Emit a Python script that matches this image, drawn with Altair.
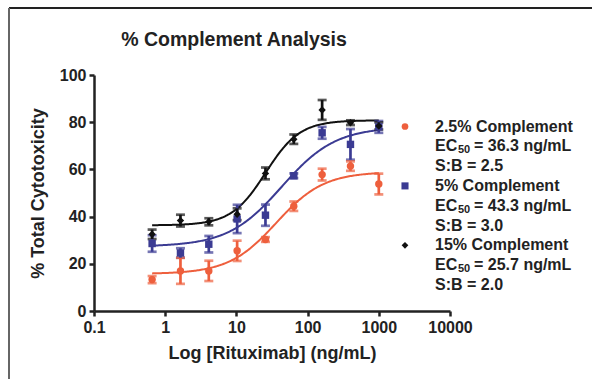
import altair as alt
import numpy as np
import pandas as pd

# ---- data ----
conc = [0.655, 1.638, 4.096, 10.24, 25.6, 64.0, 160.0, 400.0, 1000.0]

red_mean = [13.3, 17.0, 17.0, 25.5, 30.3, 44.4, 57.8, 61.4, 53.8]
red_err = [1.5, 5.5, 4.3, 4.3, 1.0, 2.0, 2.5, 2.0, 4.4]

blue_mean = [28.6, 24.6, 28.3, 39.0, 40.6, 57.3, 75.5, 70.6, 78.0]
blue_err = [3.5, 2.0, 3.5, 6.0, 4.5, 1.0, 2.5, 6.5, 2.5]

black_mean = [32.5, 38.3, 37.8, 41.0, 58.3, 72.8, 85.2, 79.8, 78.4]
black_err = [2.0, 2.5, 1.5, 2.5, 2.5, 2.0, 4.2, 1.0, 1.5]

series = ["2.5% Complement", "5% Complement", "15% Complement"]
colors = ["#EE5F3D", "#3B3B93", "#111111"]
shapes = ["circle", "square", "diamond"]

# 4-parameter logistic fit parameters (bottom, top, EC50, Hill slope)
fit_bottom = [15.7, 27.3, 36.3]
fit_top = [59.0, 78.0, 80.8]
fit_ec50 = [36.3, 43.3, 25.7]
fit_hill = [1.3, 1.15, 1.8]

legend_ec50 = ["36.3", "43.3", "25.7"]
legend_sb = ["2.5", "3.0", "2.0"]

x_ticks = [0.1, 1, 10, 100, 1000, 10000]
y_ticks = [0, 20, 40, 60, 80, 100]

# ---- tables ----
means = [red_mean, blue_mean, black_mean]
errs = [red_err, blue_err, black_err]
rows = []
for s, m, e in zip(series, means, errs):
    for c, mv, ev in zip(conc, m, e):
        rows.append({"series": s, "conc": c, "mean": mv, "lo": mv - ev, "hi": mv + ev})
pts = pd.DataFrame(rows)

xs = np.logspace(np.log10(conc[0]), np.log10(conc[-1]), 200)
crow = []
for s, b, t, ec, h in zip(series, fit_bottom, fit_top, fit_ec50, fit_hill):
    ys = b + (t - b) / (1 + (ec / xs) ** h)
    for xv, yv in zip(xs, ys):
        crow.append({"series": s, "conc": xv, "fit": yv})
curves = pd.DataFrame(crow)

FONT = "Liberation Sans"
W, H = 356, 236
PL, PT = 94, 75

xscale = alt.Scale(type="log", domain=[0.1, 10000], nice=False)
yscale = alt.Scale(domain=[0, 100], nice=False)
xaxis = alt.Axis(values=x_ticks, format="~g", title="Log [Rituximab] (ng/mL)", grid=False,
                 labelFlush=False)
yaxis = alt.Axis(values=y_ticks, title="% Total Cytotoxicity", grid=False, labelFlush=False)
cscale = alt.Scale(domain=series, range=colors)

line = alt.Chart(curves).mark_line(strokeWidth=2, clip=True).encode(
    x=alt.X("conc:Q", scale=xscale, axis=xaxis),
    y=alt.Y("fit:Q", scale=yscale, axis=yaxis),
    color=alt.Color("series:N", scale=cscale, legend=None),
    detail="series:N",
)

ebar = alt.Chart(pts).mark_errorbar(ticks=True, size=9, thickness=2.7).encode(
    x=alt.X("conc:Q", scale=xscale, axis=xaxis),
    y=alt.Y("lo:Q", scale=yscale, axis=yaxis),
    y2="hi:Q",
    color=alt.Color("series:N", scale=cscale, legend=None),
)

layers = [line, ebar]
for s, col, shp in zip(series, colors, shapes):
    layers.append(
        alt.Chart(pts[pts.series == s]).mark_point(
            shape=shp, filled=True, opacity=1, color=col, size=55 if shp != "square" else 55
        ).encode(
            x=alt.X("conc:Q", scale=xscale, axis=xaxis),
            y=alt.Y("mean:Q", scale=yscale, axis=yaxis),
        )
    )

# ---- manual legend with subscripts ----
LX, TX = 311, 341
Y0, DY = 51.5, 19.8
one = pd.DataFrame({"a": [0]})
for i, (s, col, shp) in enumerate(zip(series, colors, shapes)):
    ybase = Y0 + DY * 3 * i
    layers.append(
        alt.Chart(one).mark_point(shape=shp, filled=True, opacity=1, color=col,
                                  size=45 if shp != "square" else 50)
        .encode(x=alt.value(LX), y=alt.value(ybase))
    )
    txt_kw = dict(font=FONT, fontWeight="bold", fontSize=16, align="left",
                  baseline="middle", color="#222222")
    layers.append(alt.Chart(one).mark_text(text=s, **txt_kw)
                  .encode(x=alt.value(TX), y=alt.value(ybase)))
    layers.append(alt.Chart(one).mark_text(text="EC", **txt_kw)
                  .encode(x=alt.value(TX), y=alt.value(ybase + DY)))
    sub_kw = dict(txt_kw)
    sub_kw["fontSize"] = 11
    layers.append(alt.Chart(one).mark_text(text="50", **sub_kw)
                  .encode(x=alt.value(TX + 23), y=alt.value(ybase + DY + 4)))
    layers.append(alt.Chart(one).mark_text(text="= " + legend_ec50[i] + " ng/mL", **txt_kw)
                  .encode(x=alt.value(TX + 39), y=alt.value(ybase + DY)))
    layers.append(alt.Chart(one).mark_text(text="S:B = " + legend_sb[i], **txt_kw)
                  .encode(x=alt.value(TX), y=alt.value(ybase + 2 * DY)))

# ---- outer frame (top and left border lines) ----
layers.append(alt.Chart(one).mark_rule(color="#222222", strokeWidth=2).encode(
    x=alt.value(9 - PL), x2=alt.value(592 - PL), y=alt.value(8 - PT)))
layers.append(alt.Chart(one).mark_rule(color="#666666", strokeWidth=2).encode(
    x=alt.value(9 - PL), y=alt.value(8 - PT), y2=alt.value(379 - PT)))

chart = alt.layer(*layers).properties(
    width=W, height=H,
    title=alt.TitleParams("% Complement Analysis", font=FONT, fontSize=19.5,
                          fontWeight="bold", color="#222222", anchor="middle",
                          frame="group", dx=-38, offset=0, dy=43),
    padding={"left": PL, "top": PT, "right": 592 - PL - W, "bottom": 379 - PT - H},
    autosize=alt.AutoSizeParams(type="none"),
).configure_view(stroke=None).configure_axis(
    labelFont=FONT, labelFontWeight="bold", labelFontSize=16, labelColor="#222222",
    titleFont=FONT, titleFontWeight="bold", titleFontSize=18, titleColor="#222222",
    domainColor="#222222", domainWidth=2.5, tickColor="#222222", tickWidth=2.5,
    tickSize=5, labelPadding=3,
).configure_axisX(titlePadding=9).configure_axisY(titlePadding=12)

chart.save("out.html", embed_options={"renderer": "svg", "actions": False})
